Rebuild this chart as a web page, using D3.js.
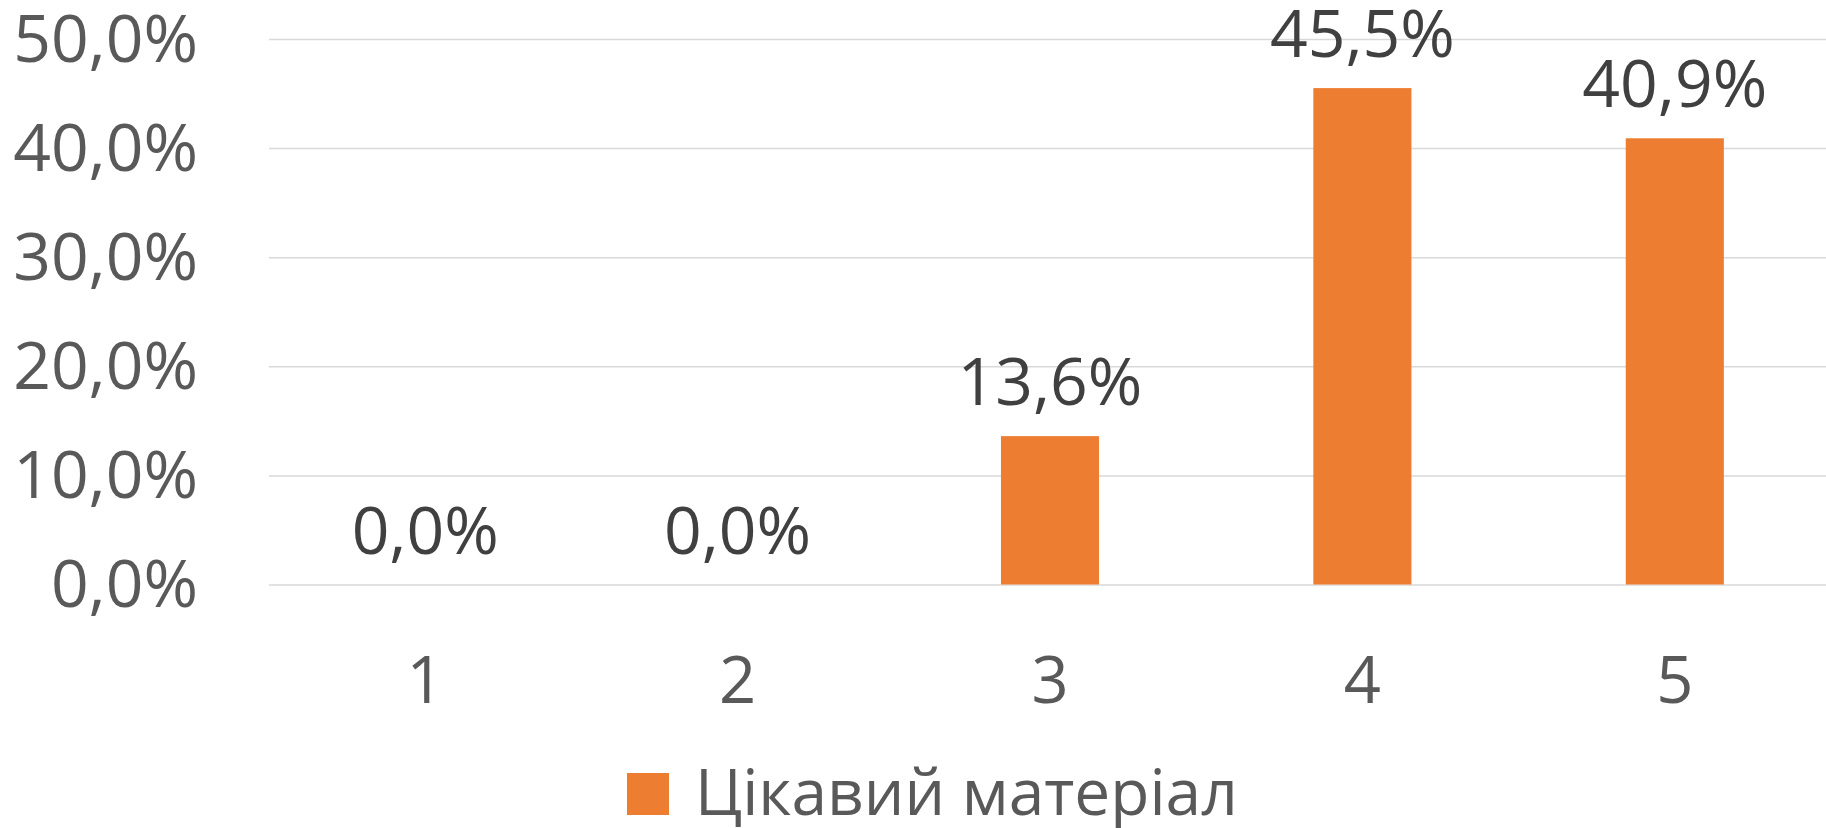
<!DOCTYPE html>
<html>
<head>
<meta charset="utf-8">
<script src="https://d3js.org/d3.v7.min.js"></script>
<style>
  body { margin: 0; background: #fff; }
  text { font-family: "Open Sans", "Noto Sans", sans-serif; }
</style>
</head>
<body>
<div id="chart"></div>
<script>
// data
var categories = ["1", "2", "3", "4", "5"];
var values = [0.0, 0.0, 13.6, 45.5, 40.9];
var yTicks = [0, 10, 20, 30, 40, 50];
var seriesName = "Цікавий матеріал";

var width = 1826, height = 828;
var fmt = function (v) { return v.toFixed(1).replace(".", ",") + "%"; };

var svg = d3.select("#chart").append("svg")
    .attr("width", width)
    .attr("height", height);

var x = d3.scaleBand().domain(categories).range([269, 1831]).padding(0);
var y = d3.scaleLinear().domain([0, 50]).range([584.5, 39]);

// y axis with gridlines
var yAxis = svg.append("g")
    .attr("transform", "translate(269,0)")
    .call(d3.axisLeft(y).tickValues(yTicks).tickFormat(fmt)
        .tickSize(-(1831 - 269)).tickPadding(71));
yAxis.select(".domain").remove();
yAxis.selectAll("line").attr("stroke", "#d9d9d9").attr("stroke-width", 1.5);
yAxis.selectAll("text")
    .attr("fill", "#595959")
    .attr("font-size", "66px")
    .attr("dy", "0.34em");

// x axis labels
var xAxis = svg.append("g")
    .attr("transform", "translate(0," + y(0) + ")")
    .call(d3.axisBottom(x).tickSize(0));
xAxis.select(".domain").remove();
xAxis.selectAll("text")
    .attr("fill", "#595959")
    .attr("font-size", "65px")
    .attr("y", 118.5)
    .attr("dy", 0);

// bars
var barW = x.bandwidth() * 0.314;
svg.selectAll(".bar").data(values).enter().append("rect")
    .attr("class", "bar")
    .attr("x", function (d, i) { return x(categories[i]) + x.bandwidth() / 2 - barW / 2; })
    .attr("y", function (d) { return y(d); })
    .attr("width", barW)
    .attr("height", function (d) { return y(0) - y(d); })
    .attr("fill", "#ed7d31");

// data labels
svg.selectAll(".lbl").data(values).enter().append("text")
    .attr("class", "lbl")
    .attr("x", function (d, i) { return x(categories[i]) + x.bandwidth() / 2; })
    .attr("y", function (d) { return y(d) - 31; })
    .attr("text-anchor", "middle")
    .attr("fill", "#404040")
    .attr("font-size", "66px")
    .text(fmt);

// legend
svg.append("rect")
    .attr("x", 627).attr("y", 773)
    .attr("width", 42).attr("height", 42)
    .attr("fill", "#ed7d31");
svg.append("text")
    .attr("x", 695).attr("y", 815)
    .attr("fill", "#595959")
    .attr("font-size", "64px")
    .text(seriesName);
</script>
</body>
</html>
